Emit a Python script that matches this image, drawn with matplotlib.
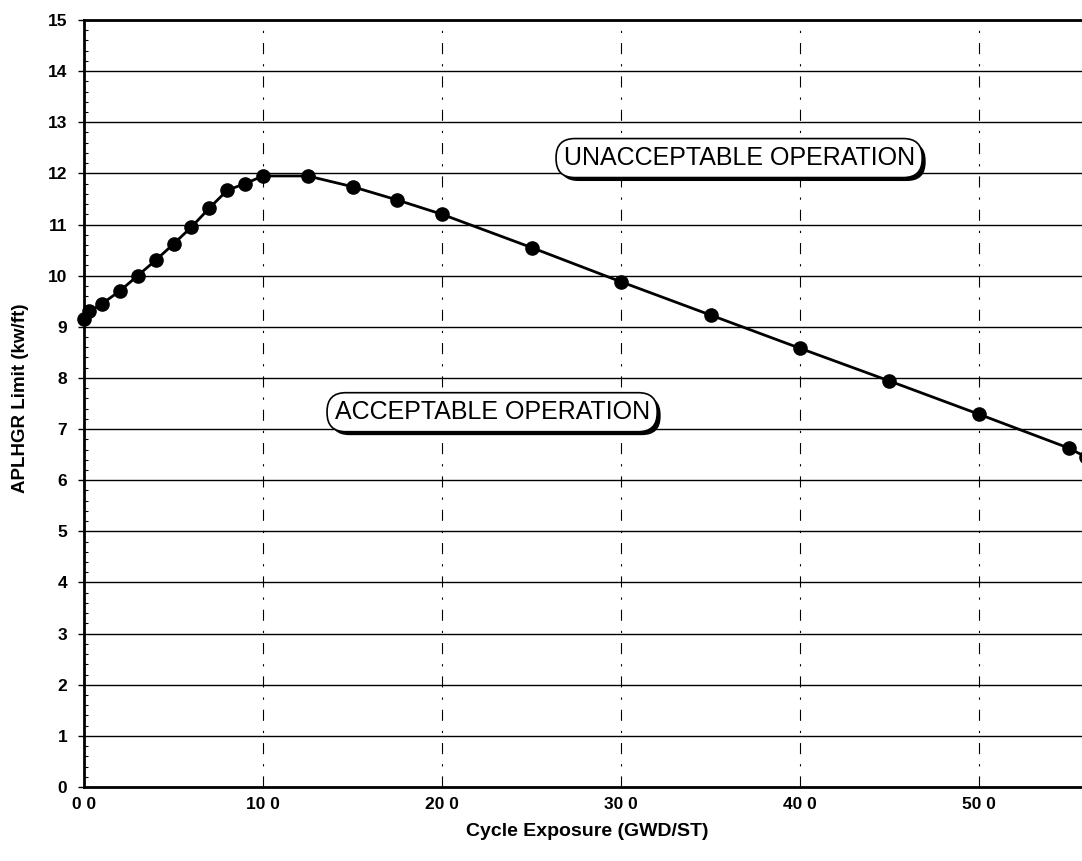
import matplotlib
matplotlib.use('Agg')
import matplotlib.pyplot as plt
import matplotlib.patheffects as pe
from matplotlib.ticker import MultipleLocator

plt.rcParams['font.family'] = ['Liberation Sans', 'DejaVu Sans']

# cycle exposure (GWD/ST) and APLHGR limit (kw/ft)
exposure = [0.0, 0.3, 1.0, 2.0, 3.0, 4.0, 5.0, 6.0, 7.0, 8.0, 9.0, 10.0,
            12.5, 15.0, 17.5, 20.0, 25.0, 30.0, 35.0, 40.0, 45.0, 50.0, 55.0, 56.0]
aplhgr = [9.15, 9.3, 9.45, 9.7, 10.0, 10.3, 10.62, 10.95, 11.32, 11.67, 11.8, 11.95,
          11.95, 11.74, 11.48, 11.2, 10.55, 9.88, 9.23, 8.58, 7.94, 7.29, 6.63, 6.45]

xticks = [0, 10, 20, 30, 40, 50]
xticklabels = ['0 0', '10 0', '20 0', '30 0', '40 0', '50 0']
yticks = list(range(0, 16))

fig = plt.figure(figsize=(10.82, 8.61), dpi=100)
W, H = 1082, 861
px = 17.9  # pixels per GWD/ST
x0, xmax = 84, 57
ax = fig.add_axes([x0 / W, (H - 787) / H, xmax * px / W, (787 - 20) / H])
ax.set_xlim(0, xmax)
ax.set_ylim(0, 15)

for y in yticks[1:]:
    ax.axhline(y, color='black', lw=1.0, zorder=1)
for x in xticks[1:]:
    ax.axvline(x, color='black', lw=0.8, ls=(0, (10, 9, 2, 9)), zorder=1)

ax.plot(exposure, aplhgr, color='black', lw=2, marker='o', ms=9.5,
        zorder=3, clip_on=False)

ax.set_xticks(xticks)
ax.set_xticklabels(xticklabels)
ax.set_yticks(yticks)
ax.yaxis.set_minor_locator(MultipleLocator(0.2))
ax.tick_params(axis='both', labelsize=12.5, length=4, width=1)
ax.tick_params(axis='x', length=0, pad=7)
ax.tick_params(axis='y', pad=8)
ax.tick_params(axis='y', which='minor', direction='in', length=3, width=0.8)
for lab in ax.get_xticklabels() + ax.get_yticklabels():
    lab.set_fontweight('bold')

for s in ['left', 'bottom', 'top']:
    ax.spines[s].set_linewidth(2)
ax.spines['right'].set_visible(False)

fig.text(587 / W, 1 - 832 / H, 'Cycle Exposure (GWD/ST)', fontsize=14,
         fontweight='bold', ha='center', va='center')
fig.text(21 / W, 1 - 398 / H, 'APLHGR Limit (kw/ft)', fontsize=13.5,
         fontweight='bold', ha='center', va='center', rotation=90)


def label_box(x, y, txt):
    t = ax.text(x, y, txt, ha='center', va='center', fontsize=18, zorder=5,
                bbox=dict(boxstyle='round,pad=0.3,rounding_size=0.75',
                          fc='white', ec='black', lw=1.2))
    t.get_bbox_patch().set_path_effects(
        [pe.SimplePatchShadow(offset=(2.5, -2.5), shadow_rgbFace='black', alpha=1.0),
         pe.Normal()])


label_box(36.6, 12.3, 'UNACCEPTABLE OPERATION')
label_box(22.8, 7.33, 'ACCEPTABLE OPERATION')

fig.savefig('out.png', dpi=100)
